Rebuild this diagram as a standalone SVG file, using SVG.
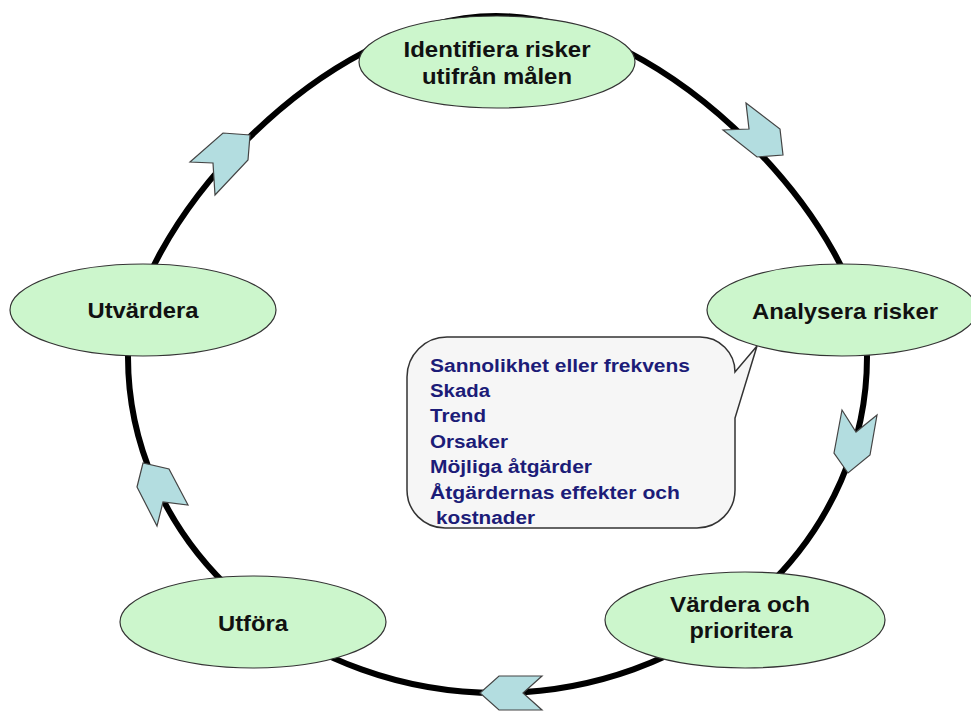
<svg xmlns="http://www.w3.org/2000/svg" width="971" height="711" viewBox="0 0 971 711">
<style>
.node ellipse{fill:#ccf6cc;stroke:#333;stroke-width:1.2}
.node text{font-family:"Liberation Sans",Arial,sans-serif;font-weight:bold;font-size:22px;fill:#111;text-anchor:middle}
.arrow{fill:#b3dde0;stroke:#444;stroke-width:1.2;stroke-linejoin:miter}
.ring{fill:none;stroke:#000;stroke-width:6}
.callout path{fill:#f6f6f6;stroke:#333;stroke-width:1.5}
.callout text{font-family:"Liberation Sans",Arial,sans-serif;font-weight:bold;font-size:18px;fill:#1c1c78}
</style>
<rect width="971" height="711" fill="#fff"/>
<g id="connectors">
<path class="ring" d="M128,357 C128,235 320,16 496,16 C672,16 867,235 867,357 A369.5,336 0 0 1 128,357 Z"/>
<polygon class="arrow" points="746,103 780,129 783,155 757,157 723,130 749,129"/>
<polygon class="arrow" points="842,410 856,432 877,415 870,455 848,473 834,453"/>
<polygon class="arrow" points="499,676 542,676 523,693 542,710 499,710 480,693"/>
<polygon class="arrow" points="137,487 143,463 169,469 188,505 163,502 157,526"/>
<polygon class="arrow" points="190,162 223,133 250,135 248,160 215,195 213,163"/>
</g>
<g id="node-identifiera" class="node">
<ellipse cx="497" cy="62" rx="138" ry="46"/>
<text x="497" y="57" textLength="187" lengthAdjust="spacingAndGlyphs">Identifiera risker</text>
<text x="497" y="84" textLength="150" lengthAdjust="spacingAndGlyphs">utifrån målen</text>
</g>
<g id="node-analysera" class="node">
<ellipse cx="842" cy="310" rx="135" ry="46"/>
<text x="845" y="319" textLength="186" lengthAdjust="spacingAndGlyphs">Analysera risker</text>
</g>
<g id="node-vardera" class="node">
<ellipse cx="745" cy="620" rx="140" ry="48"/>
<text x="740" y="612" textLength="140" lengthAdjust="spacingAndGlyphs">Värdera och</text>
<text x="741" y="638" textLength="103" lengthAdjust="spacingAndGlyphs">prioritera</text>
</g>
<g id="node-utfora" class="node">
<ellipse cx="253" cy="622" rx="133" ry="46"/>
<text x="253" y="631" textLength="70" lengthAdjust="spacingAndGlyphs">Utföra</text>
</g>
<g id="node-utvardera" class="node">
<ellipse cx="143" cy="310" rx="133" ry="46"/>
<text x="143" y="318" textLength="111" lengthAdjust="spacingAndGlyphs">Utvärdera</text>
</g>
<g id="callout" class="callout">
<path d="M447,337 H700 A35,35 0 0 1 735,372 L757,346 L735,418 V490 A38,38 0 0 1 697,528 H445 A38,38 0 0 1 407,490 V377 A40,40 0 0 1 447,337 Z"/>
<text x="430" y="372" textLength="260" lengthAdjust="spacingAndGlyphs">Sannolikhet eller frekvens</text>
<text x="430" y="397" textLength="60" lengthAdjust="spacingAndGlyphs">Skada</text>
<text x="430" y="422" textLength="56" lengthAdjust="spacingAndGlyphs">Trend</text>
<text x="430" y="448" textLength="78" lengthAdjust="spacingAndGlyphs">Orsaker</text>
<text x="430" y="473" textLength="162" lengthAdjust="spacingAndGlyphs">Möjliga åtgärder</text>
<text x="430" y="499" textLength="250" lengthAdjust="spacingAndGlyphs">Åtgärdernas effekter och</text>
<text x="436" y="524" textLength="99" lengthAdjust="spacingAndGlyphs">kostnader</text>
</g>
</svg>
